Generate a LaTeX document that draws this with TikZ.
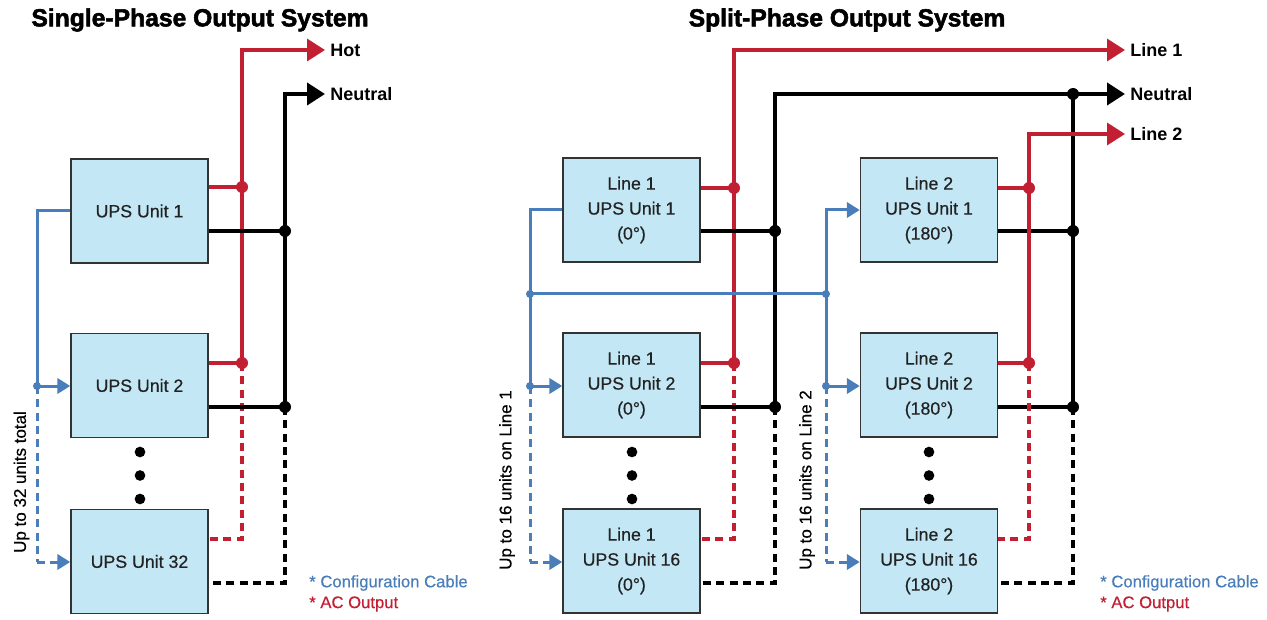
\documentclass[tikz,border=0pt]{standalone}
\usepackage{fontspec}
\setmainfont{Liberation Sans}
\newfontfamily\medfont[FakeBold=0.5]{Liberation Sans}
\newfontfamily\heavyfont[FakeBold=2.2]{Liberation Sans Bold}
\usetikzlibrary{arrows.meta}
\definecolor{acred}{HTML}{C21F32}
\definecolor{cfgblue}{HTML}{4A7EBB}
\definecolor{boxfill}{HTML}{C3E7F5}
\definecolor{boxline}{HTML}{333333}
\definecolor{txt}{HTML}{222222}
\begin{document}
\begin{tikzpicture}[x=0.75pt,y=-0.75pt,
 ups/.style={draw=boxline,line width=1.1pt,fill=boxfill,minimum width=102.75pt,minimum height=78pt,inner sep=0pt,align=center,text=txt,font=\medfont\fontsize{13.3}{18.75}\selectfont},
 acw/.style={draw=acred,line width=2.6pt},
 nw/.style={draw=black,line width=3pt},
 cablew/.style={draw=cfgblue,line width=2.25pt},
 dsh/.style={dash pattern=on 6pt off 4pt},
 bigtip/.style={-{Triangle[length=13.5pt,width=16.5pt]}},
 smalltip/.style={-{Triangle[length=9.75pt,width=11.5pt]}},
 title/.style={font=\heavyfont\fontsize{18.5}{22}\selectfont},
 outlbl/.style={anchor=west,font=\bfseries\fontsize{13.5}{16}\selectfont,inner sep=0pt},
 sidelbl/.style={rotate=90,font=\medfont\fontsize{12.75}{15}\selectfont,inner sep=0pt},
 legend/.style={anchor=west,font=\medfont\fontsize{12.5}{15}\selectfont,inner sep=0pt},
 rdot/.style={fill=acred},
 ndot/.style={fill=black},
 bdot/.style={fill=cfgblue},
]
\useasboundingbox (0,0) rectangle (1267,620);

% ================= LEFT: single phase =================
\node[title] (t1) at (200,20) {Single-Phase Output System};
\node[ups] (u1) at (139.5,211) {UPS Unit 1};
\node[ups] (u2) at (139.5,385.5) {UPS Unit 2};
\node[ups] (u32) at (139.5,561.5) {UPS Unit 32};

\coordinate (hj1) at (242,187);
\coordinate (hj2) at (242,363);
\coordinate (hk) at (242,539);
\coordinate (hotend) at (325,50);
\coordinate (nj1) at (285,231);
\coordinate (nj2) at (285,407);
\coordinate (nk) at (285,583);
\coordinate (nend) at (325,94);
\coordinate (ctop) at (37,211);
\coordinate (cj) at (37,386);
\coordinate (ck) at (37,562);

% AC hot
\draw[acw,bigtip] (hj2) |- (hotend);
\draw[acw] (u1.east |- hj1) -- (hj1);
\draw[acw] (u2.east |- hj2) -- (hj2);
\draw[acw,dsh] (hj2) -- (hk) -- (u32.east |- hk);
% neutral
\draw[nw,bigtip] (nj2) |- (nend);
\draw[nw] (u1.east |- nj1) -- (nj1);
\draw[nw] (u2.east |- nj2) -- (nj2);
\draw[nw,dsh] (nj2) -- (nk) -- (u32.east |- nk);
% config cable
\draw[cablew] (u1.west |- ctop) -- (ctop) -- (cj);
\draw[cablew,smalltip] (cj) -- (u2.west |- cj);
\draw[cablew,dsh] (cj) -- (ck);
\draw[cablew,dsh,smalltip] (ck) -- (u32.west |- ck);

\fill[rdot] (hj1) circle[radius=4.5pt];
\fill[rdot] (hj2) circle[radius=4.5pt];
\fill[ndot] (nj1) circle[radius=4.5pt];
\fill[ndot] (nj2) circle[radius=4.5pt];
\fill[bdot] (cj) circle[radius=3pt];

\fill (140,452) circle[radius=4pt];
\fill (140,475.5) circle[radius=4pt];
\fill (140,499) circle[radius=4pt];

\node[outlbl] (hot) at (330,50) {Hot};
\node[outlbl] (neu1) at (330,94) {Neutral};
\node[sidelbl] (s1) at (21.5,482) {Up to 32 units total};
\node[legend,text=cfgblue] (lg1) at (309,583) {* Configuration Cable};
\node[legend,text=acred] (lg2) at (309,604) {* AC Output};

% ================= RIGHT: split phase =================
\node[title] (t2) at (847,20) {Split-Phase Output System};
\node[ups] (a1) at (631.5,210) {Line 1\\UPS Unit 1\\(0°)};
\node[ups] (a2) at (631.5,385) {Line 1\\UPS Unit 2\\(0°)};
\node[ups] (a16) at (631.5,561) {Line 1\\UPS Unit 16\\(0°)};
\node[ups] (b1) at (929,210) {Line 2\\UPS Unit 1\\(180°)};
\node[ups] (b2) at (929,385) {Line 2\\UPS Unit 2\\(180°)};
\node[ups] (b16) at (929,561) {Line 2\\UPS Unit 16\\(180°)};

\coordinate (aj1) at (734,188);
\coordinate (aj2) at (734,363);
\coordinate (ak) at (734,539);
\coordinate (l1end) at (1125,50);
\coordinate (mj1) at (775,231);
\coordinate (mj2) at (775,407);
\coordinate (mk) at (775,583);
\coordinate (n2end) at (1125,94);
\coordinate (ntop) at (1073,94);
\coordinate (pj1) at (1073,231);
\coordinate (pj2) at (1073,407);
\coordinate (pk) at (1073,583);
\coordinate (bj1) at (1029,188);
\coordinate (bj2) at (1029,363);
\coordinate (bk) at (1029,539);
\coordinate (l2end) at (1125,134);
\coordinate (qtop) at (530,210);
\coordinate (qm) at (530,294);
\coordinate (qj) at (530,386);
\coordinate (qk) at (530,562);
\coordinate (rtop) at (826,210);
\coordinate (rm) at (826,294);
\coordinate (rj) at (826,386);
\coordinate (rk) at (826,562);

% Line 1
\draw[acw,bigtip] (aj2) |- (l1end);
\draw[acw] (a1.east |- aj1) -- (aj1);
\draw[acw] (a2.east |- aj2) -- (aj2);
\draw[acw,dsh] (aj2) -- (ak) -- (a16.east |- ak);
% Neutral
\draw[nw,bigtip] (mj2) |- (n2end);
\draw[nw] (a1.east |- mj1) -- (mj1);
\draw[nw] (a2.east |- mj2) -- (mj2);
\draw[nw,dsh] (mj2) -- (mk) -- (a16.east |- mk);
\draw[nw] (ntop) -- (pj2);
\draw[nw] (b1.east |- pj1) -- (pj1);
\draw[nw] (b2.east |- pj2) -- (pj2);
\draw[nw,dsh] (pj2) -- (pk) -- (b16.east |- pk);
% Line 2
\draw[acw,bigtip] (bj2) |- (l2end);
\draw[acw] (b1.east |- bj1) -- (bj1);
\draw[acw] (b2.east |- bj2) -- (bj2);
\draw[acw,dsh] (bj2) -- (bk) -- (b16.east |- bk);
% config cable
\draw[cablew] (a1.west |- qtop) -- (qtop) -- (qj);
\draw[cablew,smalltip] (qj) -- (a2.west |- qj);
\draw[cablew,dsh] (qj) -- (qk);
\draw[cablew,dsh,smalltip] (qk) -- (a16.west |- qk);
\draw[cablew] (qm) -- (rm);
\draw[cablew,smalltip] (rj) -- (rtop) -- (b1.west |- rtop);
\draw[cablew,smalltip] (rj) -- (b2.west |- rj);
\draw[cablew,dsh] (rj) -- (rk);
\draw[cablew,dsh,smalltip] (rk) -- (b16.west |- rk);

\fill[rdot] (aj1) circle[radius=4.5pt];
\fill[rdot] (aj2) circle[radius=4.5pt];
\fill[rdot] (bj1) circle[radius=4.5pt];
\fill[rdot] (bj2) circle[radius=4.5pt];
\fill[ndot] (mj1) circle[radius=4.5pt];
\fill[ndot] (mj2) circle[radius=4.5pt];
\fill[ndot] (pj1) circle[radius=4.5pt];
\fill[ndot] (pj2) circle[radius=4.5pt];
\fill[ndot] (ntop) circle[radius=4.5pt];
\fill[bdot] (qm) circle[radius=3pt];
\fill[bdot] (qj) circle[radius=3pt];
\fill[bdot] (rm) circle[radius=3pt];
\fill[bdot] (rj) circle[radius=3pt];

\fill (632,452) circle[radius=4pt];
\fill (632,475.5) circle[radius=4pt];
\fill (632,499) circle[radius=4pt];
\fill (929,452) circle[radius=4pt];
\fill (929,475.5) circle[radius=4pt];
\fill (929,499) circle[radius=4pt];

\node[outlbl] (l1) at (1130,50) {Line 1};
\node[outlbl] (neu2) at (1130,94) {Neutral};
\node[outlbl] (l2) at (1130,134) {Line 2};
\node[sidelbl] (s2) at (507,480) {Up to 16 units on Line 1};
\node[sidelbl] (s3) at (807,480) {Up to 16 units on Line 2};
\node[legend,text=cfgblue] (lg3) at (1100,583) {* Configuration Cable};
\node[legend,text=acred] (lg4) at (1100,604) {* AC Output};
\end{tikzpicture}
\end{document}
